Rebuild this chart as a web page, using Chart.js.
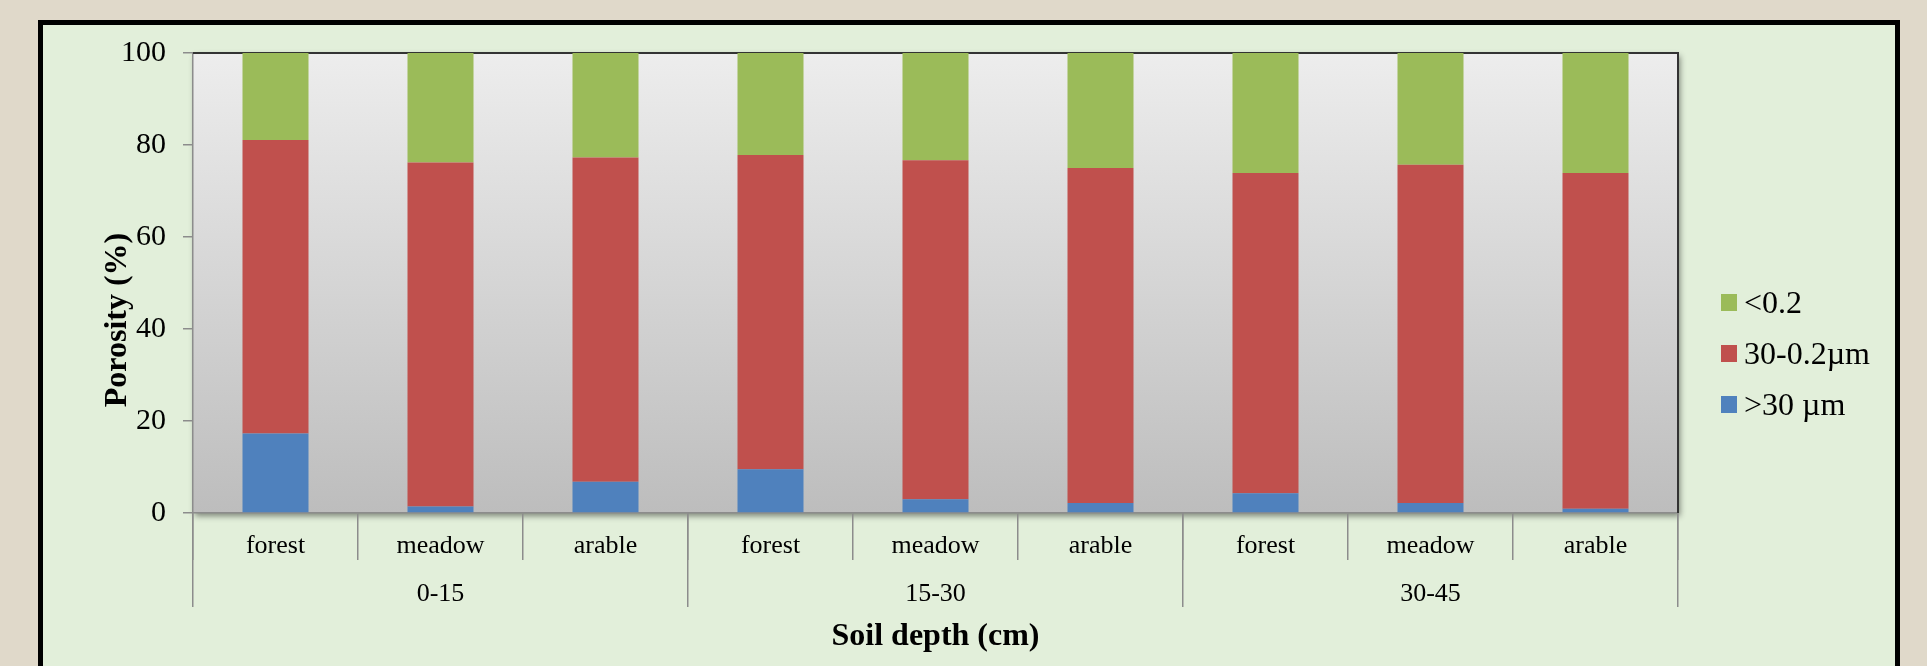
<!DOCTYPE html>
<html>
<head>
<meta charset="utf-8">
<title>Porosity by soil depth</title>
<script src="https://cdn.jsdelivr.net/npm/chart.js@4.4.1/dist/chart.umd.min.js"></script>
<style>
    html, body { margin: 0; padding: 0; overflow: hidden; }
    body { width: 1927px; height: 666px; background: #e0d9ca; position: relative; }
    .frame {
        position: absolute; left: 38px; top: 20px;
        width: 1852px; height: 720px;
        border: 5px solid #000; background: #e2efda;
    }
    #porosityChart { position: absolute; left: 0; top: 0; }
</style>
</head>
<body>
<div class="frame"></div>
<canvas id="porosityChart" width="1927" height="666"></canvas>
<script>
// ============================================================================
// POROSITY (%) BY LAND USE AND SOIL DEPTH - stacked bars
// ============================================================================

const landUse = ["forest", "meadow", "arable", "forest", "meadow", "arable", "forest", "meadow", "arable"];
const depthGroups = ["0-15", "15-30", "30-45"];

// pore size classes, bottom to top
const poresLarge = [17.3, 1.4, 6.8, 9.5, 3.0, 2.2, 4.3, 2.2, 0.9];        // >30 µm
const poresMedium = [63.8, 74.8, 70.5, 68.3, 73.7, 72.8, 69.6, 73.5, 73.0]; // 30-0.2µm
const poresSmall = [18.9, 23.8, 22.7, 22.2, 23.3, 25.0, 26.1, 24.3, 26.1];  // <0.2

const yTicks = [0, 20, 40, 60, 80, 100];

const serif = "'Liberation Serif', 'Times New Roman', serif";
const gridGray = "#8c8c8c";

const seriesList = [
    { label: "<0.2", data: poresSmall, color: "#9bbb59" },
    { label: "30-0.2\u00b5m", data: poresMedium, color: "#c0504d" },
    { label: ">30 \u00b5m", data: poresLarge, color: "#4f81bd" }
];

// plot background, frame lines, group axis, y title and legend
const decorPlugin = {
    id: "decor",
    beforeDraw(chart) {
        const { ctx, chartArea: a } = chart;
        ctx.save();
        const g = ctx.createLinearGradient(0, a.top, 0, a.bottom);
        g.addColorStop(0, "#ededed");
        g.addColorStop(1, "#bdbdbd");
        ctx.shadowColor = "rgba(0,0,0,0.45)";
        ctx.shadowBlur = 6;
        ctx.shadowOffsetX = 2;
        ctx.shadowOffsetY = 3;
        ctx.fillStyle = g;
        ctx.fillRect(a.left, a.top, a.right - a.left, a.bottom - a.top);
        ctx.restore();
    },
    beforeDatasetsDraw(chart) {
        const { ctx, chartArea: a } = chart;
        ctx.save();
        ctx.strokeStyle = "#333";
        ctx.lineWidth = 2;
        ctx.beginPath();
        ctx.moveTo(a.left, a.top);
        ctx.lineTo(a.right, a.top);
        ctx.lineTo(a.right, a.bottom);
        ctx.stroke();
        ctx.restore();
    },
    afterDraw(chart) {
        const { ctx, chartArea: a } = chart;
        const x = chart.scales.x;
        const per = landUse.length / depthGroups.length;
        ctx.save();

        // longer separators between depth groups, same alignment as the grid ticks
        ctx.strokeStyle = gridGray;
        ctx.lineWidth = 1.5;
        for (let k = 0; k <= depthGroups.length; k++) {
            const px = Math.round(x.getPixelForValue(k * per - 0.5) - 0.75) + 0.75;
            ctx.beginPath();
            ctx.moveTo(px, a.bottom);
            ctx.lineTo(px, a.bottom + 94);
            ctx.stroke();
        }

        // depth labels
        ctx.fillStyle = "#000";
        ctx.font = "26px " + serif;
        ctx.textAlign = "center";
        ctx.textBaseline = "alphabetic";
        depthGroups.forEach((lbl, k) => {
            const px = x.getPixelForValue(k * per + (per - 1) / 2);
            ctx.fillText(lbl, px, a.bottom + 88);
        });

        // y axis title
        ctx.save();
        ctx.font = "bold 32px " + serif;
        ctx.translate(126, 320);
        ctx.rotate(-Math.PI / 2);
        ctx.fillText("Porosity (%)", 0, 0);
        ctx.restore();

        // legend
        ctx.font = "32px " + serif;
        ctx.textAlign = "left";
        seriesList.forEach((s, i) => {
            const cy = 302 + i * 51;
            ctx.fillStyle = s.color;
            ctx.fillRect(a.right + 43, cy - 8, 16, 17);
            ctx.fillStyle = "#000";
            ctx.fillText(s.label, a.right + 66, cy + 11);
        });
        ctx.restore();
    }
};

const ctx = document.getElementById("porosityChart").getContext("2d");
new Chart(ctx, {
    type: "bar",
    data: {
        labels: landUse,
        datasets: seriesList.slice().reverse().map(s => ({
            label: s.label,
            data: s.data,
            backgroundColor: s.color,
            borderWidth: 0,
            categoryPercentage: 0.4,
            barPercentage: 1
        }))
    },
    options: {
        responsive: false,
        animation: false,
        devicePixelRatio: 1,
        layout: { padding: { left: 40, top: 53, right: 249, bottom: 0 } },
        plugins: {
            legend: { display: false },
            tooltip: { enabled: false }
        },
        scales: {
            x: {
                stacked: true,
                afterFit: (s) => { s.height = 153; },
                grid: { drawOnChartArea: false, tickLength: 47, color: gridGray, lineWidth: 1.5 },
                border: { color: gridGray, width: 1.5 },
                ticks: {
                    color: "#000",
                    font: { family: serif, size: 26 },
                    padding: -29,
                    autoSkip: false,
                    maxRotation: 0
                },
                title: {
                    display: true,
                    text: "Soil depth (cm)",
                    color: "#000",
                    font: { family: serif, size: 32, weight: "bold" },
                    padding: { top: 0, bottom: 10 }
                }
            },
            y: {
                stacked: true,
                min: 0,
                max: 100,
                afterFit: (s) => { s.width = 153; },
                afterBuildTicks: (s) => { s.ticks = yTicks.map(v => ({ value: v })); },
                grid: { drawOnChartArea: false, tickLength: 10, color: gridGray, lineWidth: 1.5 },
                border: { color: gridGray, width: 1.5 },
                ticks: {
                    color: "#000",
                    font: { family: serif, size: 30 },
                    padding: 17
                }
            }
        }
    },
    plugins: [decorPlugin]
});
</script>
</body>
</html>
